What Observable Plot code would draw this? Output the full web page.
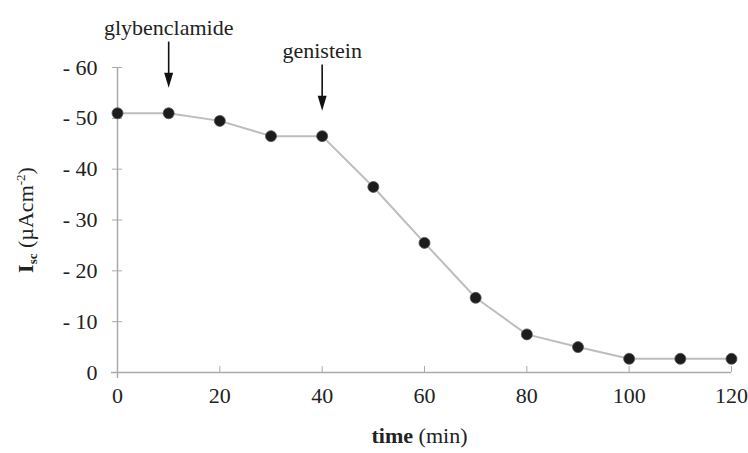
<!DOCTYPE html>
<html>
<head>
<meta charset="utf-8">
<script src="https://cdn.jsdelivr.net/npm/d3@7"></script>
<script src="https://cdn.jsdelivr.net/npm/@observablehq/plot@0.6"></script>
<style>
  html, body { margin: 0; padding: 0; background: #fff; }
</style>
</head>
<body>
<div id="chart"></div>
<script>
// ---- data ----
const times = [0, 10, 20, 30, 40, 50, 60, 70, 80, 90, 100, 110, 120];
const isc   = [51, 51, 49.5, 46.5, 46.5, 36.5, 25.5, 14.7, 7.5, 5, 2.7, 2.7, 2.7];
const xTicks = [0, 20, 40, 60, 80, 100, 120];
const yTicks = [0, 10, 20, 30, 40, 50, 60];
const annotTimes  = [10, 40];
const annotLabels = ["glybenclamide", "genistein"];
const xTitle = ["time", " (min)"];
const yTitle = ["I", "sc", " (\u00b5Acm", "-2", ")"];

const data = times.map((t, i) => ({t, v: isc[i]}));
const annots = annotTimes.map((t, i) => ({t, v: isc[times.indexOf(t)], label: annotLabels[i]}));

const FS = 22;

// narrow downward arrowhead with its tip at the anchor point
const arrowHead = {
  draw(context) {
    context.moveTo(-4.5, -15);
    context.lineTo(4.5, -15);
    context.lineTo(0, 0);
    context.closePath();
  }
};

const chart = Plot.plot({
  width: 748,
  height: 453,
  marginLeft: 117,
  marginRight: 17,
  marginTop: 67,
  marginBottom: 81,
  x: {domain: [0, 120]},
  y: {domain: [0, 60]},
  style: {fontFamily: "'Liberation Serif', serif", fontSize: FS + "px", color: "#222", background: "transparent"},
  marks: [
    Plot.ruleY([0], {stroke: "#aaa", strokeWidth: 1.5, insetLeft: -6}),
    Plot.ruleX([0], {stroke: "#aaa", strokeWidth: 1.5, insetBottom: -6}),
    Plot.axisY({ticks: yTicks, tickSize: 5, tickPadding: 15, stroke: "#aaa", fill: "#222", fontSize: FS,
      tickFormat: d => d === 0 ? "0" : "- " + d, label: null}),
    Plot.axisY({ticks: yTicks, tickSize: -5, stroke: "#aaa", fill: "none", label: null}),
    Plot.axisX({ticks: xTicks, tickSize: -6, stroke: "#aaa", fill: "none", label: null}),
    Plot.axisX({ticks: xTicks, tickSize: 0, tickPadding: 15, fill: "#222", fontSize: FS, label: null}),
    Plot.line(data, {x: "t", y: "v", stroke: "#bdbdbd", strokeWidth: 2}),
    Plot.dot(data, {x: "t", y: "v", r: 5.5, fill: "#1c1c1c", stroke: "#555", strokeWidth: 0.8}),
    Plot.ruleX(annots, {x: "t", y1: d => d.v + 14, y2: d => d.v + 7, stroke: "#111", strokeWidth: 1.6}),
    Plot.dot(annots, {x: "t", y: d => d.v + 5, symbol: arrowHead, fill: "#111", stroke: "none"}),
    Plot.text(annots, {x: "t", y: d => d.v + 14, text: "label", dy: -7, fill: "#222", fontSize: FS, lineAnchor: "bottom"}),
    Plot.text([xTitle.join("")], {frameAnchor: "bottom", dy: 70, dx: -5, fill: "#222", fontSize: FS, textAnchor: "middle", className: "xtitle"}),
    Plot.text([yTitle.join("")], {frameAnchor: "left", dx: -92, rotate: -90, fill: "#222", fontSize: FS, textAnchor: "middle", className: "ytitle"})
  ]
});

// rich text for axis titles (bold parts, sub/superscripts)
const svg = d3.select(chart);
const xt = svg.select(".xtitle text");
xt.text(null);
xt.append("tspan").attr("font-weight", "bold").text(xTitle[0]);
xt.append("tspan").text(xTitle[1]);

const yt = svg.select(".ytitle text");
yt.text(null);
yt.append("tspan").attr("font-weight", "bold").text(yTitle[0]);
yt.append("tspan").attr("font-weight", "bold").attr("font-size", "13px").attr("dy", 4).text(yTitle[1]);
yt.append("tspan").attr("dy", -4).text(yTitle[2]);
yt.append("tspan").attr("font-size", "13px").attr("dy", -8).text(yTitle[3]);
yt.append("tspan").attr("dy", 8).text(yTitle[4]);

document.getElementById("chart").appendChild(chart);
</script>
</body>
</html>
